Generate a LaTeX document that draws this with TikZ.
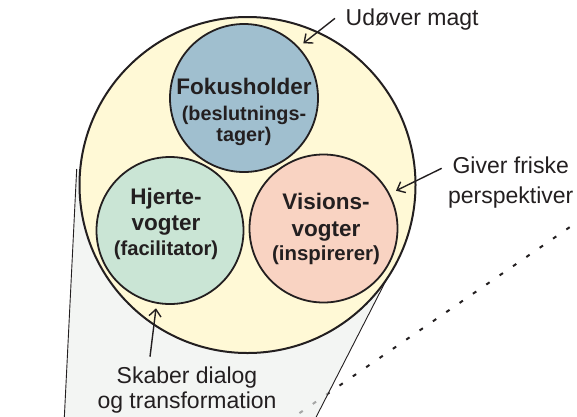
\documentclass[tikz,border=0pt]{standalone}
\usepackage{fontspec}
\setmainfont{Liberation Sans}
\usetikzlibrary{arrows.meta}
\definecolor{ink}{HTML}{231F20}
\definecolor{outerfill}{HTML}{FFF9D6}
\definecolor{bluefill}{HTML}{A0BFCF}
\definecolor{greenfill}{HTML}{CAE5D5}
\definecolor{pinkfill}{HTML}{F9D3C2}
\definecolor{funnelfill}{HTML}{ECEFED}
\begin{document}
\begin{tikzpicture}[x=1pt,y=-1pt,
  lbl/.style={font=\fontsize{23}{26}\selectfont, text=ink, inner sep=0pt, align=center},
  role/.style={font=\bfseries\fontsize{22.5}{26}\selectfont, text=ink, inner sep=0pt, align=center},
  rolecircle/.style={circle, draw=ink, line width=1.8pt, inner sep=0pt, minimum size=#1},
  arr/.style={draw=ink, line width=1.4pt, -{Straight Barb[length=7pt,width=12pt,line width=1.4pt]}},
  funnel/.style={draw=ink, line width=0.9pt},
  dots/.style={draw=ink, line width=2pt, dash pattern=on 4pt off 12.2pt}
]
\useasboundingbox (0,0) rectangle (577,416);
\clip (0,0) rectangle (577,416);

% dotted line
\coordinate (d1) at (583,218);
\coordinate (d2) at (288,421);
\draw[dots] (d1) -- (d2);

% funnel
\coordinate (fl1) at (76.7,169);
\coordinate (fl2) at (64.2,420);
\coordinate (fr1) at (396,261);
\coordinate (fr2) at (314.6,420);
\fill[funnelfill, fill opacity=0.65] (fl1) -- (fl2) -- (fr2) -- (fr1) -- cycle;
\draw[funnel] (fl1) -- (fl2);
\draw[funnel] (fr1) -- (fr2);

% circles
\node[circle, draw=ink, line width=2pt, fill=outerfill, inner sep=0pt, minimum size=336pt] (outer) at (247.5,185) {};
\node[rolecircle=148pt, fill=bluefill] (fok) at (244,98) {};
\node[rolecircle=147pt, fill=greenfill] (hje) at (170,230.5) {};
\node[rolecircle=148pt, fill=pinkfill] (vis) at (323.5,228.5) {};

% role texts (base = baseline of last line)
\node[role, anchor=base] (fokt) at (244,141.7) {Fokusholder\\{\fontsize{19.8}{26}\selectfont(beslutnings-}\\[-4.3pt]{\fontsize{19.8}{26}\selectfont tager)}};
\node[role, anchor=base] (hjet) at (166,255) {Hjerte-\\[-0.3pt]vogter\\[-1pt]{\fontsize{20.2}{26}\selectfont(facilitator)}};
\node[role, anchor=base] (vist) at (326,260) {Visions-\\[0.7pt]vogter\\[-2pt]{\fontsize{20.4}{26}\selectfont(inspirerer)}};

% labels
\node[lbl, anchor=base west] (udover) at (345.5,25) {Udøver magt};
\node[lbl, anchor=base] (giver) at (510.7,203) {Giver friske\\[4pt]perspektiver};
\node[lbl, anchor=base] (skaber) at (187,408.3) {Skaber dialog\\[-1pt]og transformation};

% arrows
\coordinate (a1t) at (335,18.3);
\coordinate (a1h) at (303.3,43.3);
\coordinate (a2t) at (441.7,168.3);
\coordinate (a2h) at (396,190.7);
\coordinate (a3t) at (150,356.7);
\coordinate (a3h) at (156,308.3);
\draw[arr] (a1t) -- (a1h);
\draw[arr] (a2t) -- (a2h);
\draw[arr] (a3t) -- (a3h);
\end{tikzpicture}
\end{document}
